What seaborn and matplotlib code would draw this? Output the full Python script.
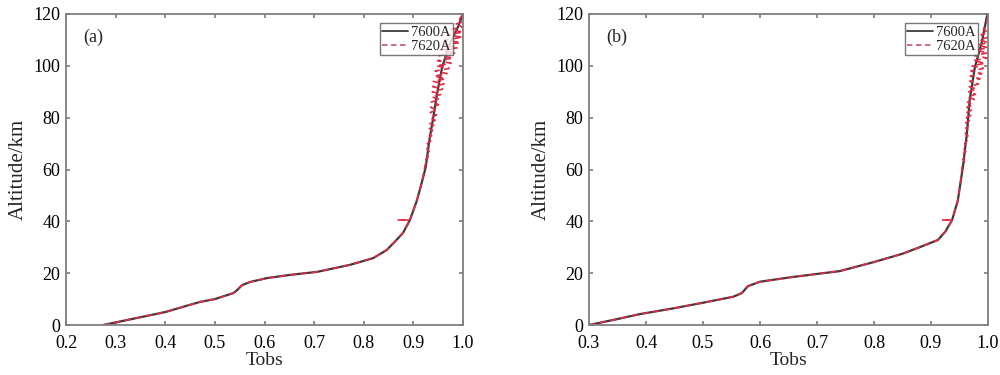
import matplotlib
matplotlib.use("Agg")
import matplotlib.pyplot as plt
import pandas as pd
import seaborn as sns

# ---- panel (a) ----
tobs_7600_a = [0.275, 0.30, 0.35, 0.40, 0.45, 0.47, 0.50, 0.537, 0.545, 0.555,
               0.571, 0.605, 0.65, 0.706, 0.772, 0.819, 0.846, 0.862, 0.879, 0.893,
               0.907, 0.917, 0.925, 0.932, 0.940, 0.948, 0.958, 0.974, 0.990, 1.0]
alt_7600_a = [0, 1.0, 3.0, 5.0, 7.8, 8.9, 10.0, 12.3, 13.5, 15.4,
              16.6, 18.1, 19.3, 20.5, 23.2, 25.8, 28.9, 32.0, 35.5, 40.5,
              48, 55, 61, 71, 80, 89.5, 99.5, 108.8, 115, 120]

# 7620A: smooth part, glitch near 40 km, noisy upper part
tobs_7620_a = [0.275, 0.30, 0.35, 0.40, 0.45, 0.47, 0.50, 0.537, 0.545, 0.555,
               0.571, 0.605, 0.65, 0.706, 0.772, 0.819, 0.846, 0.862, 0.879, 0.893,
               0.868, 0.893, 0.907, 0.917,
               0.924, 0.929, 0.925, 0.930, 0.926, 0.932, 0.927, 0.933, 0.928, 0.935,
               0.929, 0.937, 0.930, 0.939, 0.931, 0.941, 0.932, 0.944, 0.933, 0.947,
               0.934, 0.949, 0.935, 0.951, 0.936, 0.954, 0.937, 0.957, 0.938, 0.959,
               0.939, 0.962, 0.940, 0.965, 0.942, 0.968, 0.944, 0.972, 0.946, 0.976,
               0.949, 0.980, 0.952, 0.985, 0.955, 0.990, 0.959, 0.995, 0.963, 0.999,
               0.968, 1.000, 0.975, 1.000, 0.984, 1.000, 0.993, 1.000]
alt_7620_a = [0, 1.0, 3.0, 5.0, 7.8, 8.9, 10.0, 12.3, 13.5, 15.4,
              16.6, 18.1, 19.3, 20.5, 23.2, 25.8, 28.9, 32.0, 35.5, 40.5,
              40.5, 40.6, 48, 55,
              62, 63, 64, 65, 66, 67, 68, 69, 70, 71,
              72, 73, 74, 75, 76, 77, 78, 79, 80, 81,
              82, 83, 84, 85, 86, 87, 88, 89, 90, 91,
              92, 93, 94, 95, 96, 97, 98, 99, 100, 101,
              102, 103, 104, 105, 106, 107, 108, 109, 110, 111,
              112, 113, 114, 115, 116, 117, 118, 120]

# ---- panel (b) ----
tobs_7600_b = [0.30, 0.35, 0.389, 0.45, 0.50, 0.553, 0.568, 0.579, 0.60, 0.653,
               0.70, 0.74, 0.80, 0.85, 0.88, 0.912, 0.925, 0.937, 0.947, 0.956,
               0.963, 0.968, 0.977, 0.989, 0.998, 1.0]
alt_7600_b = [0, 2.3, 4.2, 6.5, 8.6, 10.9, 12.3, 15.0, 16.7, 18.4,
              19.7, 20.8, 24.3, 27.5, 30.0, 32.8, 36, 40.5, 48, 61,
              74, 87, 99.5, 109, 119, 120]

tobs_7620_b = [0.30, 0.35, 0.389, 0.45, 0.50, 0.553, 0.568, 0.579, 0.60, 0.653,
               0.70, 0.74, 0.80, 0.85, 0.88, 0.912, 0.925, 0.937,
               0.919, 0.937, 0.947, 0.953,
               0.955, 0.959, 0.956, 0.960, 0.957, 0.961, 0.958, 0.962, 0.959, 0.963,
               0.960, 0.965, 0.960, 0.966, 0.961, 0.968, 0.961, 0.969, 0.962, 0.971,
               0.963, 0.972, 0.963, 0.974, 0.964, 0.976, 0.965, 0.978, 0.966, 0.980,
               0.967, 0.983, 0.968, 0.986, 0.969, 0.989, 0.970, 0.992, 0.972, 0.995,
               0.974, 0.998, 0.976, 1.000, 0.979, 1.000, 0.982, 1.000, 0.985, 1.000,
               0.988, 1.000, 0.992, 0.996, 0.999, 1.000]
alt_7620_b = [0, 2.3, 4.2, 6.5, 8.6, 10.9, 12.3, 15.0, 16.7, 18.4,
              19.7, 20.8, 24.3, 27.5, 30.0, 32.8, 36, 40.5,
              40.5, 40.6, 48, 57,
              62, 63, 64, 65, 66, 67, 68, 69, 70, 71,
              72, 73, 74, 75, 76, 77, 78, 79, 80, 81,
              82, 83, 84, 85, 86, 87, 88, 89, 90, 91,
              92, 93, 94, 95, 96, 97, 98, 99, 100, 101,
              102, 103, 104, 105, 106, 107, 108, 109, 110, 111,
              112, 113, 114, 116, 118, 120]

PANELS = [
    ("(a)", tobs_7600_a, alt_7600_a, tobs_7620_a, alt_7620_a, (0.2, 1.0),
     [0.2, 0.3, 0.4, 0.5, 0.6, 0.7, 0.8, 0.9, 1.0]),
    ("(b)", tobs_7600_b, alt_7600_b, tobs_7620_b, alt_7620_b, (0.3, 1.0),
     [0.3, 0.4, 0.5, 0.6, 0.7, 0.8, 0.9, 1.0]),
]

BLACK = "#3a3a3a"
RED = "#e42a44"
LEGEND_RED = "#c8607a"
FRAME = "#808080"


def set_style() -> None:
    sns.set_theme(style="ticks")
    plt.rcParams.update({
        "font.family": ["Liberation Serif", "DejaVu Serif"],
        "axes.edgecolor": FRAME,
        "axes.linewidth": 1.3,
        "xtick.color": FRAME,
        "ytick.color": FRAME,
        "xtick.labelcolor": "black",
        "ytick.labelcolor": "black",
        "xtick.direction": "in",
        "ytick.direction": "in",
        "xtick.top": True,
        "ytick.right": True,
        "xtick.major.size": 3,
        "ytick.major.size": 3,
        "xtick.major.pad": 7,
        "ytick.major.pad": 4,
        "xtick.labelsize": 13,
        "ytick.labelsize": 13,
    })


def draw_panel(ax, label, t1, a1, t2, a2, xlim, xticks) -> None:
    d1 = pd.DataFrame({"Tobs": t1, "Altitude": a1})
    d2 = pd.DataFrame({"Tobs": t2, "Altitude": a2})
    sns.lineplot(data=d1, x="Tobs", y="Altitude", sort=False, estimator=None,
                 color=BLACK, lw=1.6, label="7600A", ax=ax)
    sns.lineplot(data=d2, x="Tobs", y="Altitude", sort=False, estimator=None,
                 color=RED, lw=1.2, label="7620A", ax=ax)
    ax.lines[1].set_linestyle((0, (4, 2.5)))
    ax.set_xlim(*xlim)
    ax.set_ylim(0, 120)
    ax.set_xticks(xticks)
    ax.set_xticklabels([f"{v:.1f}" for v in xticks])
    ax.set_yticks(range(0, 121, 20))
    ax.set_xlabel("Tobs", fontsize=14, labelpad=0)
    ax.set_ylabel("Altitude/km", fontsize=15, labelpad=4)
    ax.text(0.043, 0.925, label, transform=ax.transAxes, fontsize=13,
            ha="left", va="center")
    leg = ax.legend(loc="upper right", bbox_to_anchor=(0.975, 0.97), fontsize=10.5,
                    frameon=True, fancybox=False, handlelength=1.8,
                    borderpad=0.15, labelspacing=0.05, handletextpad=0.2,
                    borderaxespad=0.0)
    leg.get_frame().set_edgecolor("#555555")
    leg.get_frame().set_linewidth(1.0)
    for line in leg.get_lines():
        line.set_linewidth(1.3)
    leg.get_lines()[1].set_linestyle((0, (3, 2)))
    leg.get_lines()[1].set_color(LEGEND_RED)
    for sp in ax.spines.values():
        sp.set_visible(True)


def main() -> None:
    set_style()
    fig = plt.figure(figsize=(10, 3.75), dpi=100)
    ax_a = fig.add_axes([0.066, 0.1333, 0.397, 0.8294])
    ax_b = fig.add_axes([0.589, 0.1333, 0.399, 0.8294])
    for ax, panel in zip((ax_a, ax_b), PANELS):
        draw_panel(ax, *panel)
    fig.savefig("out.png", dpi=100, facecolor="white")


if __name__ == "__main__":
    main()
